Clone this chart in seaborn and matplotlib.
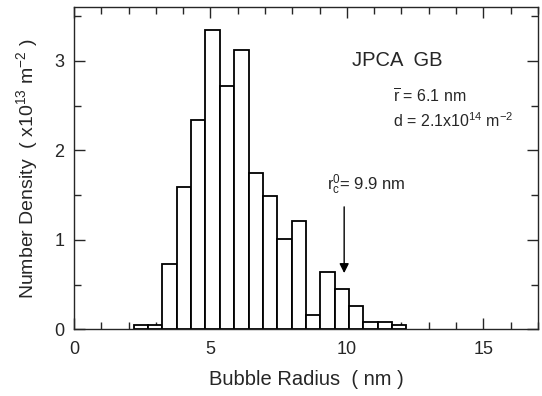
import numpy as np
import pandas as pd
import matplotlib
matplotlib.use("Agg")
import matplotlib.pyplot as plt
from matplotlib.ticker import MultipleLocator
import seaborn as sns

# -----------------------------
# Data
# -----------------------------
radius = [2.45, 2.98, 3.51, 4.03, 4.56, 5.08, 5.61, 6.14, 6.66, 7.19,
          7.71, 8.24, 8.77, 9.29, 9.82, 10.34, 10.87, 11.40, 11.92]
density = [0.05, 0.05, 0.73, 1.59, 2.34, 3.35, 2.72, 3.12, 1.75, 1.49,
           1.01, 1.21, 0.165, 0.64, 0.45, 0.26, 0.08, 0.08, 0.045]
bin_range = (2.19, 12.18)
n_bins = 19
rc0 = 9.9

df = pd.DataFrame({"radius": radius, "density": density})

# -----------------------------
# Style
# -----------------------------
sns.set_style("ticks")
plt.rcParams['font.family'] = ['Liberation Sans', 'DejaVu Sans']
plt.rcParams['mathtext.fontset'] = 'custom'
plt.rcParams['mathtext.rm'] = 'Liberation Sans'
plt.rcParams['mathtext.it'] = 'Liberation Sans'
plt.rcParams['mathtext.default'] = 'regular'

fig = plt.figure(figsize=(5.42, 3.96), dpi=100)
ax = fig.add_axes([0.1365, 0.168, 0.856, 0.8136])

# -----------------------------
# Histogram
# -----------------------------
sns.histplot(data=df, x="radius", weights="density", bins=n_bins,
             binrange=bin_range, stat="count", color="white",
             edgecolor="black", linewidth=1.3, alpha=1, ax=ax)

ax.set_xlim(0, 17)
ax.set_ylim(0, 3.6)
ax.xaxis.set_major_locator(MultipleLocator(5))
ax.xaxis.set_minor_locator(MultipleLocator(1))
ax.yaxis.set_major_locator(MultipleLocator(1))
ax.yaxis.set_minor_locator(MultipleLocator(0.5))
ax.tick_params(which='both', direction='in', top=True, right=True,
               width=1, labelsize=13)
ax.tick_params(which='major', length=8)
ax.tick_params(which='minor', length=5)
ax.tick_params(axis='x', pad=8)
ax.tick_params(axis='y', pad=7)
for s in ax.spines.values():
    s.set_linewidth(1)

ax.set_xlabel("Bubble Radius  ( nm )", fontsize=14.5, labelpad=9)
ax.set_ylabel("Number Density  ( x10$^{13}$ m$^{-2}$ )", fontsize=14, labelpad=10)

# -----------------------------
# Annotations
# -----------------------------
ax.text(10.2, 3.0, "JPCA  GB", fontsize=14.5, va='center', ha='left')
ax.text(11.68, 2.60, r"$\overline{\mathrm{r}}$ = 6.1 nm", fontsize=11.5, va='center', ha='left')
ax.text(11.68, 2.33, "d = 2.1x10$^{14}$ m$^{-2}$", fontsize=11.5, va='center', ha='left')
ax.text(9.28, 1.62, "r$_c^0$= 9.9 nm", fontsize=12, va='center', ha='left')
ax.annotate("", xy=(rc0, 0.63), xytext=(rc0, 1.37),
            arrowprops=dict(arrowstyle='-|>', color='black', lw=1,
                            mutation_scale=14, shrinkA=0, shrinkB=0))

fig.savefig("out.png", dpi=100)
